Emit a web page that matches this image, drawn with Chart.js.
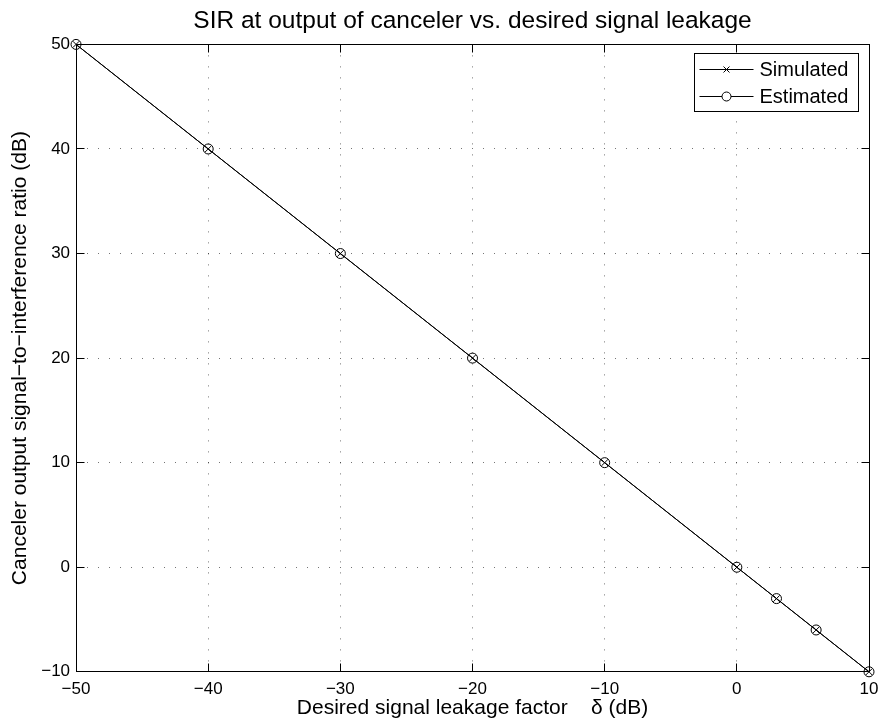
<!DOCTYPE html>
<html>
<head>
<meta charset="utf-8">
<script src="https://cdn.jsdelivr.net/npm/chart.js@4.4.1/dist/chart.umd.min.js"></script>
<style>
  html, body { margin: 0; padding: 0; background: #fff; }
  canvas { display: block; }
</style>
</head>
<body>
<canvas id="sirChart" width="881" height="723"></canvas>
<script>
/* -------------------------------------------------
   Data
   ------------------------------------------------- */
const leakageDb    = [-50, -40, -30, -20, -10, 0, 3, 6, 10];
const simulatedSir = [50, 40, 30, 20, 10, 0, -3, -6, -10];
const estimatedSir = [50, 40, 30, 20, 10, 0, -3, -6, -10];
const seriesNames  = ['Simulated', 'Estimated'];

const FONT = '"Liberation Sans", Arial, Helvetica, sans-serif';
Chart.defaults.font.family = FONT;
Chart.defaults.color = '#000';

function toPoints(xs, ys) { return xs.map((x, i) => ({ x, y: ys[i] })); }
function minus(v) { return String(v).replace('-', '\u2212'); }
// same 1px alignment Chart.js uses for its grid lines
function crisp(p) { return Math.round(p - 0.5) + 0.5; }

/* -------------------------------------------------
   Plugin: full box + inward ticks (MATLAB look)
   ------------------------------------------------- */
const matlabAxes = {
  id: 'matlabAxes',
  afterDatasetsDraw(chart) {
    const { ctx, chartArea: a, scales: { x, y } } = chart;
    const L = crisp(a.left), R = crisp(a.right);
    const T = crisp(a.top), B = crisp(a.bottom);
    const len = 8;
    ctx.save();
    ctx.strokeStyle = '#000';
    ctx.lineWidth = 1;
    ctx.beginPath();
    x.ticks.forEach(t => {
      const px = crisp(x.getPixelForValue(t.value));
      ctx.moveTo(px, B); ctx.lineTo(px, B - len);
      ctx.moveTo(px, T); ctx.lineTo(px, T + len);
    });
    y.ticks.forEach(t => {
      const py = crisp(y.getPixelForValue(t.value));
      ctx.moveTo(L, py); ctx.lineTo(L + len, py);
      ctx.moveTo(R, py); ctx.lineTo(R - len, py);
    });
    ctx.stroke();
    ctx.strokeRect(L, T, R - L, B - T);
    ctx.restore();
  }
};

/* -------------------------------------------------
   Plugin: legend box inside the axes, line + marker
   ------------------------------------------------- */
const insideLegend = {
  id: 'insideLegend',
  afterDraw(chart) {
    const { ctx, chartArea: a } = chart;
    const right = crisp(a.right) - 11, top = crisp(a.top) + 9;
    const w = 164, h = 58;
    const left = right - w;
    ctx.save();
    ctx.fillStyle = '#fff';
    ctx.fillRect(left, top, w, h);
    ctx.strokeStyle = '#000';
    ctx.lineWidth = 1;
    ctx.strokeRect(left, top, w, h);
    ctx.font = '20px ' + FONT;
    ctx.textBaseline = 'middle';
    ctx.fillStyle = '#000';
    chart.data.datasets.forEach((ds, i) => {
      const cy = Math.round(top + 15 + i * 27.5) + 0.5;
      const x0 = left + 5, x1 = left + 59, mx = (x0 + x1) / 2;
      ctx.beginPath();
      ctx.moveTo(x0, cy); ctx.lineTo(x1, cy);
      ctx.stroke();
      ctx.beginPath();
      if (ds.pointStyle === 'crossRot') {
        const r = 3;
        ctx.moveTo(mx - r, cy - r); ctx.lineTo(mx + r, cy + r);
        ctx.moveTo(mx - r, cy + r); ctx.lineTo(mx + r, cy - r);
      } else {
        ctx.arc(mx, cy, 4.5, 0, Math.PI * 2);
        ctx.fillStyle = '#fff';
        ctx.fill();
        ctx.fillStyle = '#000';
      }
      ctx.stroke();
      ctx.fillText(ds.label, x1 + 6, cy + 1);
    });
    ctx.restore();
  }
};

/* -------------------------------------------------
   Chart
   ------------------------------------------------- */
new Chart(document.getElementById('sirChart'), {
  type: 'line',
  data: {
    datasets: [
      {
        label: seriesNames[0],
        data: toPoints(leakageDb, simulatedSir),
        borderColor: '#000',
        borderWidth: 1,
        pointStyle: 'crossRot',
        pointRadius: 4.5,
        pointBorderColor: '#000',
        pointBorderWidth: 1,
        pointBackgroundColor: 'rgba(0,0,0,0)',
        clip: false,
        tension: 0
      },
      {
        label: seriesNames[1],
        data: toPoints(leakageDb, estimatedSir),
        borderColor: '#000',
        borderWidth: 1,
        pointStyle: 'circle',
        pointRadius: 5,
        pointBorderColor: '#000',
        pointBorderWidth: 1,
        pointBackgroundColor: 'rgba(0,0,0,0)',
        clip: false,
        tension: 0
      }
    ]
  },
  options: {
    responsive: false,
    animation: false,
    devicePixelRatio: 1,
    layout: { padding: { left: 0, right: 12, top: 0, bottom: 0 } },
    plugins: {
      legend: { display: false },
      tooltip: { enabled: false },
      title: {
        display: true,
        fullSize: false,
        text: 'SIR at output of canceler vs. desired signal leakage',
        font: { size: 24.5, weight: 'normal' },
        color: '#000',
        padding: { top: 7, bottom: 8 }
      }
    },
    scales: {
      x: {
        type: 'linear',
        min: -50, max: 10,
        // keep the end labels from shrinking the plot area
        afterFit(scale) { scale.paddingLeft = 0; scale.paddingRight = 0; },
        ticks: {
          stepSize: 10,
          padding: 9,
          font: { size: 17, lineHeight: 1 },
          color: '#000',
          callback: v => minus(v)
        },
        grid: { color: 'rgba(0,0,0,0.55)', drawTicks: false, lineWidth: 1 },
        border: { display: false, dash: [1, 10] },
        title: {
          display: true,
          text: 'Desired signal leakage factor    \u03b4 (dB)',
          font: { size: 21, lineHeight: 1.2 },
          color: '#000',
          padding: { top: -11, bottom: 2 }
        }
      },
      y: {
        min: -10, max: 50,
        ticks: {
          stepSize: 10,
          padding: 6,
          font: { size: 17, lineHeight: 1 },
          color: '#000',
          callback: v => minus(v)
        },
        grid: { color: 'rgba(0,0,0,0.55)', drawTicks: false, lineWidth: 1 },
        border: { display: false, dash: [1, 10] },
        title: {
          display: true,
          text: 'Canceler output signal\u2212to\u2212interference ratio (dB)',
          font: { size: 21, lineHeight: 1.2 },
          color: '#000',
          padding: { top: 8, bottom: 2 }
        }
      }
    }
  },
  plugins: [matlabAxes, insideLegend]
});
</script>
</body>
</html>
